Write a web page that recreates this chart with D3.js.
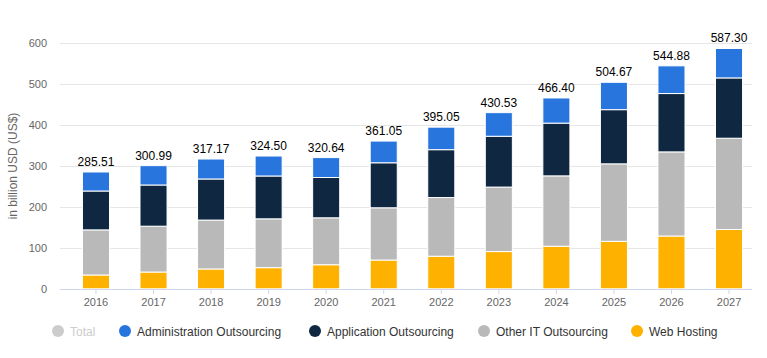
<!DOCTYPE html>
<html><head><meta charset="utf-8">
<script src="https://cdn.jsdelivr.net/npm/d3@7"></script>
<style>body{margin:0;background:#fff}svg{display:block;font-family:"Liberation Sans",Arial,sans-serif}</style>
</head><body><svg id="c" width="767" height="358"></svg>
<script>
const years = ["2016","2017","2018","2019","2020","2021","2022","2023","2024","2025","2026","2027"];
const totals = [285.51,300.99,317.17,324.50,320.64,361.05,395.05,430.53,466.40,504.67,544.88,587.30];
const webHosting = [33.8,41.0,48.5,51.7,58.8,70.3,79.6,91.0,104.0,116.0,129.0,145.0];
const otherIT = [110.2,112.0,119.5,119.3,114.7,127.7,143.4,157.6,172.0,189.4,205.6,223.0];
const applicationOut = [95.0,100.7,100.4,104.7,98.5,110.0,117.0,124.2,128.9,132.4,142.6,147.4];
const adminOut = totals.map((t,i)=>+(t-webHosting[i]-otherIT[i]-applicationOut[i]).toFixed(2));
const yTicks = [0,100,200,300,400,500,600];
const seriesNames = ["Administration Outsourcing","Application Outsourcing","Other IT Outsourcing","Web Hosting"];
const colors = {"Administration Outsourcing":"#2876dd","Application Outsourcing":"#0f2740","Other IT Outsourcing":"#b9b9b9","Web Hosting":"#ffb100"};

const svg = d3.select("#c");
const x = d3.scaleBand().domain(years).range([67.2,757.8]).paddingInner(0.53).paddingOuter(0.265);
const y = d3.scaleLinear().domain([0,600]).range([288.8,43.3]);

// grid
svg.append("g").selectAll("line").data(yTicks.slice(1)).join("line")
  .attr("x1",60).attr("x2",752).attr("y1",d=>Math.round(y(d))+0.5).attr("y2",d=>Math.round(y(d))+0.5)
  .attr("stroke","#e6e6e6").attr("stroke-width",1);

// y axis labels
const yAxis = d3.axisLeft(y).tickValues(yTicks).tickSize(0).tickPadding(0);
const ya = svg.append("g").attr("transform","translate(47,0)").call(yAxis);
ya.select(".domain").remove();
ya.selectAll("text").attr("fill","#666").attr("font-size","11px").attr("font-family","Liberation Sans, Arial, sans-serif");

svg.append("text").attr("transform","translate(17,166) rotate(-90)").attr("text-anchor","middle")
  .attr("fill","#666").attr("font-size","12px").text("in billion USD (US$)");

// stacked data
const rows = years.map((yr,i)=>({year:yr,"Web Hosting":webHosting[i],"Other IT Outsourcing":otherIT[i],"Application Outsourcing":applicationOut[i],"Administration Outsourcing":adminOut[i]}));
const stack = d3.stack().keys(["Web Hosting","Other IT Outsourcing","Application Outsourcing","Administration Outsourcing"]);
const layers = stack(rows);
svg.append("g").selectAll("g").data(layers).join("g").attr("fill",d=>colors[d.key])
  .selectAll("rect").data(d=>d).join("rect")
  .attr("x",d=>x(d.data.year)).attr("width",x.bandwidth())
  .attr("y",d=>y(d[1])).attr("height",d=>y(d[0])-y(d[1]))
  .attr("stroke","#fff").attr("stroke-width",1);

// x axis
const xa = svg.append("g").attr("transform","translate(0,289)").call(d3.axisBottom(x).tickSize(5).tickPadding(4));
xa.select(".domain").attr("d","M60,0.5H752").attr("stroke","#ccd6eb");
xa.selectAll(".tick line").attr("stroke","#ccd6eb");
xa.selectAll("text").attr("fill","#666").attr("font-size","11px").attr("font-family","Liberation Sans, Arial, sans-serif");

// total labels
svg.append("g").selectAll("text").data(years).join("text")
  .attr("x",d=>x(d)+x.bandwidth()/2).attr("y",(d,i)=>y(totals[i])-6)
  .attr("text-anchor","middle").attr("font-size","12px").attr("fill","#000")
  .text((d,i)=>totals[i].toFixed(2));

// legend
const legendItems = [{name:"Total",color:"#cccccc",text:"#cccccc",x:58},
  ...seriesNames.map((n,i)=>({name:n,color:colors[n],text:"#333",x:[125,315,484,637][i]}))];
const lg = svg.append("g").selectAll("g").data(legendItems).join("g").attr("transform",d=>`translate(${d.x},331)`);
lg.append("circle").attr("r",6).attr("fill",d=>d.color);
lg.append("text").attr("x",12).attr("y",4.5).attr("font-size","12px").attr("fill",d=>d.text).text(d=>d.name);
</script></body></html>
